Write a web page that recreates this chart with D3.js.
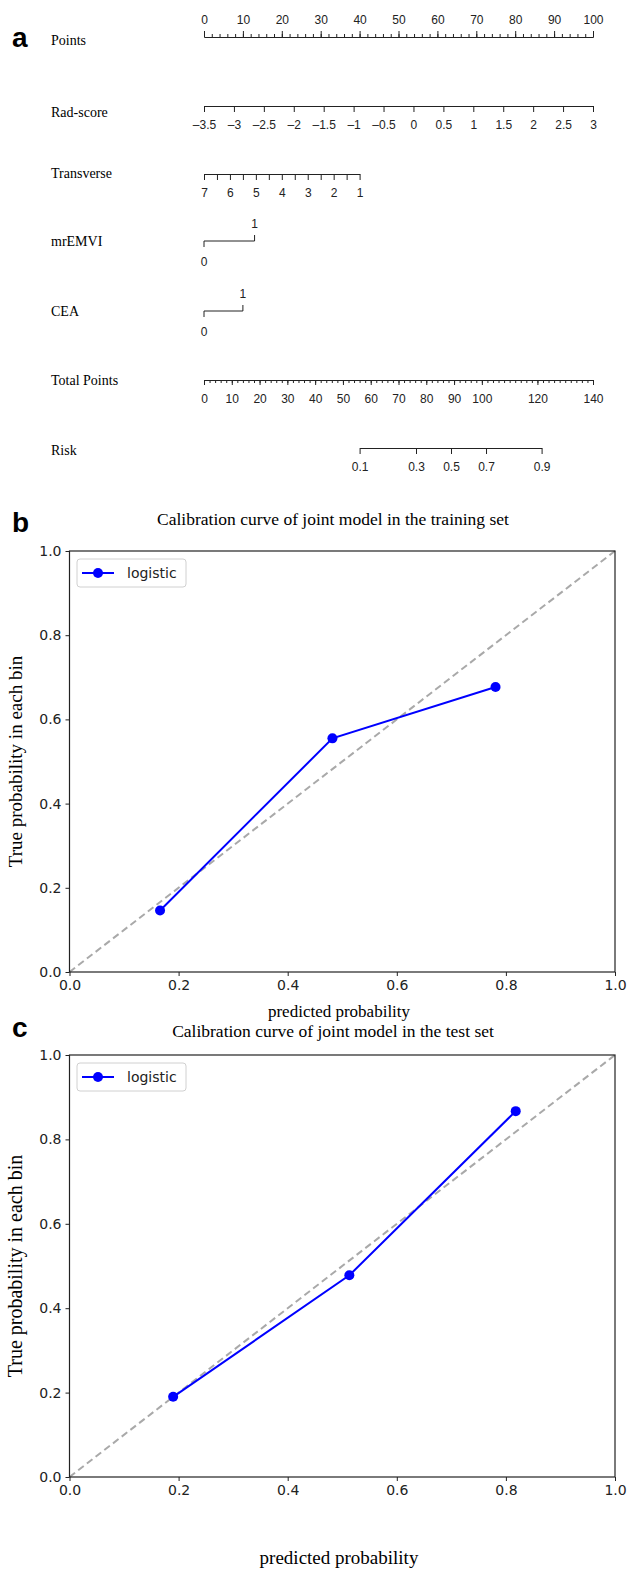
<!DOCTYPE html>
<html>
<head>
<meta charset="utf-8">
<script src="https://cdn.jsdelivr.net/npm/d3@7"></script>
<style>
  body { margin: 0; background: #fff; }
  .nlab { font-family: "Liberation Serif", "Times New Roman", serif; font-size: 14px; }
  .ntick text { font-family: "Liberation Sans Narrow", "Liberation Sans", Arial, sans-serif; font-size: 12px; }
  .ntick path, .ntick line { stroke: #222; }
  .serif { font-family: "Liberation Serif", "Times New Roman", serif; }
  .letter { font-family: "Liberation Sans", Arial, sans-serif; font-weight: bold; font-size: 28px; }
</style>
</head>
<body>
<div id="chart"></div>
<script>
// ---- nomogram data (panel a)
var pointsTicks = [0, 10, 20, 30, 40, 50, 60, 70, 80, 90, 100];
var radScoreTicks = [-3.5, -3, -2.5, -2, -1.5, -1, -0.5, 0, 0.5, 1, 1.5, 2, 2.5, 3];
var radScorePoints = [0, 100];          // points at -3.5 and 3
var transverseTicks = [7, 6.5, 6, 5.5, 5, 4.5, 4, 3.5, 3, 2.5, 2, 1.5, 1];
var transverseLabels = [7, 6, 5, 4, 3, 2, 1];
var transversePoints = [0, 40];         // points at 7 and 1
var mrEMVIPoints = [0, 13];             // points for 0 and 1
var ceaPoints = [0, 10];                // points for 0 and 1
var totalTicks = [0, 10, 20, 30, 40, 50, 60, 70, 80, 90, 100, 120, 140];
var riskTicks = [0.1, 0.3, 0.5, 0.7, 0.9];
var riskTotalPoints = [56, 76.3, 88.9, 101.5, 121.5];

// ---- calibration data (panels b, c)
var calTicks = [0, 0.2, 0.4, 0.6, 0.8, 1.0];
var trainPred = [0.166, 0.482, 0.781];
var trainTrue = [0.146, 0.555, 0.677];
var testPred = [0.19, 0.513, 0.818];
var testTrue = [0.19, 0.478, 0.867];

var W = 627, H = 1571;
var svg = d3.select("#chart").append("svg")
    .attr("width", W)
    .attr("height", H);

var fmtDash = function(d) { return d < 0 ? "\u2013" + Math.abs(d) : "" + d; };

// points scale shared by the nomogram rows
var pts = d3.scaleLinear().domain([0, 100]).range([204, 593]);
var totalX = d3.scaleLinear().domain([0, 140]).range([204, 593]);

svg.append("text").attr("class", "letter").attr("x", 12).attr("y", 47).text("a");

function rowLabel(txt, y) {
    svg.append("text").attr("class", "nlab")
        .attr("x", 51).attr("y", y).attr("dy", "0.35em").text(txt);
}

// Points row
rowLabel("Points", 40);
var gp = svg.append("g").attr("class", "ntick").attr("transform", "translate(0,37)");
gp.call(d3.axisTop(pts).tickValues(d3.range(0, 101, 2)).tickSize(3).tickSizeOuter(0).tickFormat(""));
gp.append("g").call(d3.axisTop(pts).tickValues(pointsTicks).tickSize(6).tickSizeOuter(0).tickPadding(7));
gp.selectAll("text").attr("fill", "#222");

// Rad-score row
rowLabel("Rad-score", 112);
var radX = d3.scaleLinear().domain([-3.5, 3]).range(radScorePoints.map(pts));
svg.append("g").attr("class", "ntick").attr("transform", "translate(0,106)")
    .call(d3.axisBottom(radX).tickValues(radScoreTicks).tickSize(6).tickSizeOuter(0).tickPadding(8).tickFormat(fmtDash))
    .selectAll("text").attr("fill", "#222");

// Transverse row
rowLabel("Transverse", 173);
var trX = d3.scaleLinear().domain([7, 1]).range(transversePoints.map(pts));
var gt = svg.append("g").attr("class", "ntick").attr("transform", "translate(0,174)");
gt.call(d3.axisBottom(trX).tickValues(transverseTicks).tickSize(6).tickSizeOuter(0).tickPadding(8)
    .tickFormat(function(d) { return transverseLabels.indexOf(d) >= 0 ? d : ""; }));
gt.selectAll("text").attr("fill", "#222");

// binary rows
function binaryRow(txt, yLine, p) {
    rowLabel(txt, yLine);
    var x0 = pts(p[0]), x1 = pts(p[1]);
    svg.append("path")
        .attr("d", "M" + x0 + "," + (yLine + 6) + "V" + yLine + "H" + x1 + "V" + (yLine - 6))
        .attr("fill", "none").attr("stroke", "#222");
    [[x0, yLine + 21, "0"], [x1, yLine - 17, "1"]].forEach(function(t) {
        svg.append("text").attr("x", t[0]).attr("y", t[1])
            .attr("text-anchor", "middle").attr("dy", "0.35em")
            .style("font-family", "'Liberation Sans Narrow', 'Liberation Sans', sans-serif").style("font-size", "12px")
            .attr("fill", "#222").text(t[2]);
    });
}
binaryRow("mrEMVI", 241, mrEMVIPoints);
binaryRow("CEA", 311, ceaPoints);

// Total Points row
rowLabel("Total Points", 380);
var gtp = svg.append("g").attr("class", "ntick").attr("transform", "translate(0,380)");
gtp.call(d3.axisBottom(totalX).tickValues(d3.range(0, 141, 2)).tickSize(3).tickSizeOuter(0).tickFormat(""));
gtp.append("g").call(d3.axisBottom(totalX).tickValues(totalTicks).tickSize(5).tickSizeOuter(0).tickPadding(9));
gtp.selectAll("text").attr("fill", "#222");

// Risk row (axis spans only the risk ticks)
rowLabel("Risk", 450);
var riskX = d3.scaleLinear()
    .domain([riskTotalPoints[0], riskTotalPoints[riskTotalPoints.length - 1]])
    .range([totalX(riskTotalPoints[0]), totalX(riskTotalPoints[riskTotalPoints.length - 1])]);
svg.append("g").attr("class", "ntick").attr("transform", "translate(0,448)")
    .call(d3.axisBottom(riskX).tickValues(riskTotalPoints).tickSize(6).tickSizeOuter(0).tickPadding(8)
        .tickFormat(function(d, i) { return riskTicks[i]; }))
    .selectAll("text").attr("fill", "#222");

// ---- calibration panels
function calPanel(opt) {
    var x = d3.scaleLinear().domain([0, 1]).range([69.5, 615]);
    var y = d3.scaleLinear().domain([0, 1]).range([opt.bottom, opt.top]);
    var g = svg.append("g").attr("class", "cal");

    svg.append("text").attr("class", "letter").attr("x", 12).attr("y", opt.letterY).text(opt.letter);
    g.append("text").attr("class", "serif").attr("x", 333).attr("y", opt.titleY)
        .attr("dy", "0.35em").attr("text-anchor", "middle").style("font-size", "17.5px")
        .text(opt.title);

    // diagonal reference
    g.append("path")
        .datum([0, 1])
        .attr("d", d3.line().x(function(d) { return x(d); }).y(function(d) { return y(d); }))
        .attr("stroke", "#a9a9a9").attr("stroke-width", 2).attr("stroke-dasharray", "7,4")
        .attr("fill", "none");

    var pts2 = opt.pred.map(function(p, i) { return [p, opt.truth[i]]; });
    g.append("path")
        .datum(pts2)
        .attr("d", d3.line().x(function(d) { return x(d[0]); }).y(function(d) { return y(d[1]); }))
        .attr("stroke", "#0000ff").attr("stroke-width", 2).attr("fill", "none");
    g.selectAll(".dot").data(pts2).enter().append("circle")
        .attr("cx", function(d) { return x(d[0]); })
        .attr("cy", function(d) { return y(d[1]); })
        .attr("r", 5).attr("fill", "#0000ff");

    // frame
    g.append("rect").attr("x", x(0)).attr("y", y(1))
        .attr("width", x(1) - x(0)).attr("height", y(0) - y(1))
        .attr("fill", "none").attr("stroke", "#222").attr("stroke-width", 1.2);

    var ax = g.append("g").attr("transform", "translate(0," + y(0) + ")")
        .call(d3.axisBottom(x).tickValues(calTicks).tickFormat(d3.format(".1f")).tickSize(4).tickSizeOuter(0).tickPadding(4));
    var ay = g.append("g").attr("transform", "translate(" + x(0) + ",0)")
        .call(d3.axisLeft(y).tickValues(calTicks).tickFormat(d3.format(".1f")).tickSize(4).tickSizeOuter(0).tickPadding(4));
    [ax, ay].forEach(function(a) {
        a.select(".domain").remove();
        a.selectAll("text").attr("fill", "#222").style("font-size", "14px").style("font-family", "'DejaVu Sans', sans-serif");
        a.selectAll("line").attr("stroke", "#222");
    });

    g.append("text").attr("class", "serif").attr("x", 339).attr("y", opt.xlabY)
        .attr("dy", "0.35em").attr("text-anchor", "middle").style("font-size", opt.xlabSize + "px")
        .text("predicted probability");
    g.append("text").attr("class", "serif")
        .attr("transform", "translate(15," + ((opt.top + opt.bottom) / 2) + ") rotate(-90)")
        .attr("dy", "0.35em").attr("text-anchor", "middle").style("font-size", opt.ylabSize + "px")
        .text("True probability in each bin");

    // legend
    var lg = g.append("g").attr("transform", "translate(77," + (opt.top + 8) + ")");
    lg.append("rect").attr("width", 109).attr("height", 28).attr("rx", 3)
        .attr("fill", "#fff").attr("stroke", "#d0d0d0");
    lg.append("line").attr("x1", 5).attr("x2", 37).attr("y1", 14).attr("y2", 14)
        .attr("stroke", "#0000ff").attr("stroke-width", 2);
    lg.append("circle").attr("cx", 21).attr("cy", 14).attr("r", 5).attr("fill", "#0000ff");
    lg.append("text").attr("x", 50).attr("y", 14).attr("dy", "0.35em")
        .style("font-family", "'DejaVu Sans', sans-serif").style("font-size", "14px").attr("fill", "#222")
        .text("logistic");
}

calPanel({ letter: "b", title: "Calibration curve of joint model in the training set",
    letterY: 532, titleY: 519, top: 551, bottom: 972, xlabY: 1011, xlabSize: 17, ylabSize: 19,
    pred: trainPred, truth: trainTrue });
calPanel({ letter: "c", title: "Calibration curve of joint model in the test set",
    letterY: 1037, titleY: 1031, top: 1055, bottom: 1477, xlabY: 1557, xlabSize: 19, ylabSize: 20,
    pred: testPred, truth: testTrue });
</script>
</body>
</html>
